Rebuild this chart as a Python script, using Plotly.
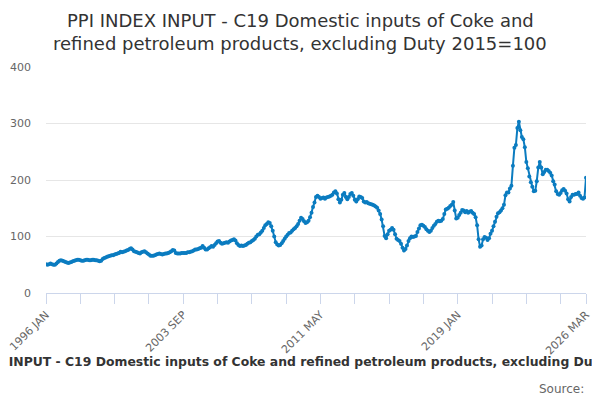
import pandas as pd
import plotly.graph_objects as go

# monthly index values (2015=100)
y1996 = [51, 50, 51, 52, 51, 50, 50, 52, 55, 57, 58, 57]
y1997 = [56, 55, 54, 53, 54, 55, 56, 57, 58, 59, 59, 58]
y1998 = [57, 57, 58, 59, 59, 58, 58, 59, 59, 58, 58, 57]
y1999 = [56, 57, 60, 62, 63, 64, 65, 66, 67, 67, 68, 69]
y2000 = [70, 71, 73, 72, 73, 74, 75, 76, 78, 79, 77, 74]
y2001 = [73, 72, 71, 70, 72, 73, 74, 72, 70, 68, 66, 66]
y2002 = [66, 67, 68, 69, 70, 69, 68, 69, 70, 70, 71, 72]
y2003 = [74, 76, 75, 71, 70, 70, 70, 71, 71, 71, 71, 72]
y2004 = [72, 73, 74, 75, 77, 77, 78, 79, 80, 83, 80, 77]
y2005 = [77, 79, 81, 83, 82, 85, 88, 91, 92, 89, 87, 88]
y2006 = [89, 90, 89, 91, 93, 94, 95, 93, 88, 85, 83, 84]
y2007 = [83, 84, 85, 87, 89, 90, 92, 94, 96, 100, 103, 104]
y2008 = [107, 110, 115, 120, 122, 125, 124, 118, 110, 100, 90, 86]
y2009 = [84, 85, 88, 92, 96, 100, 103, 106, 107, 110, 113, 115]
y2010 = [118, 122, 128, 133, 131, 127, 124, 125, 128, 134, 142, 152]
y2011 = [160, 170, 172, 170, 167, 168, 169, 167, 169, 170, 171, 172]
y2012 = [174, 178, 180, 176, 166, 160, 165, 174, 177, 170, 166, 170]
y2013 = [175, 177, 172, 165, 162, 166, 171, 170, 168, 162, 160, 161]
y2014 = [159, 158, 157, 156, 155, 153, 151, 146, 140, 130, 118, 101]
y2015 = [97, 104, 110, 112, 115, 112, 104, 96, 94, 92, 87, 80]
y2016 = [75, 78, 84, 92, 97, 100, 99, 100, 101, 108, 114, 120]
y2017 = [121, 119, 117, 113, 110, 108, 110, 115, 119, 122, 126, 128]
y2018 = [127, 128, 131, 140, 148, 149, 151, 154, 156, 161, 146, 132]
y2019 = [133, 138, 142, 147, 146, 143, 145, 142, 144, 145, 142, 140]
y2020 = [134, 120, 95, 82, 84, 95, 99, 98, 94, 97, 105, 110]
y2021 = [118, 126, 135, 141, 143, 146, 150, 156, 173, 178, 178, 185]
y2022 = [190, 225, 257, 262, 292, 303, 288, 276, 272, 258, 232, 221]
y2023 = [206, 196, 188, 180, 181, 198, 222, 232, 222, 210, 214, 218]
y2024 = [218, 216, 213, 208, 198, 192, 180, 175, 174, 177, 182, 184]
y2025 = [181, 176, 166, 162, 170, 174, 174, 175, 175, 178, 172, 168]
y2026 = [167, 169, 204]

values = (y1996 + y1997 + y1998 + y1999 + y2000 + y2001 + y2002 + y2003 + y2004 + y2005
          + y2006 + y2007 + y2008 + y2009 + y2010 + y2011 + y2012 + y2013 + y2014 + y2015
          + y2016 + y2017 + y2018 + y2019 + y2020 + y2021 + y2022 + y2023 + y2024 + y2025
          + y2026)

months = pd.date_range("1996-01-01", periods=len(values), freq="MS")
labels = [d.strftime("%Y %b").upper() for d in months]

# a tick every 23 months, a label on every 4th one plus the last month
tick_idx = list(range(0, len(labels), 23)) + [len(labels) - 1]
tick_text = [labels[i] if (i % 92 == 0 or i == len(labels) - 1) else "" for i in tick_idx]

title1 = "PPI INDEX INPUT - C19 Domestic inputs of Coke and"
title2 = "refined petroleum products, excluding Duty 2015=100"
caption = ("PPI INDEX INPUT - C19 Domestic inputs of Coke and refined petroleum "
           "products, excluding Duty 2015=100")

blue = "#0b7cc0"
font = "DejaVu Sans"

fig = go.Figure(go.Scatter(
    x=labels, y=values, mode="lines+markers",
    line=dict(color=blue, width=2),
    marker=dict(color=blue, size=4),
    hoverinfo="x+y"))

# the page body adds an 8px offset, so the figure is laid out 8px up/left
off = 8
W, H = 600, 400
l, r, t, b = 46 - off, W - (586 - off), 67 - off, H - (293 - off)
pw, ph = W - l - r, H - t - b


def py(screen_y):
    # screen pixel row -> paper y
    return (H - b - (screen_y - off)) / ph


def px(screen_x):
    return (screen_x - off - l) / pw


fig.update_layout(
    width=W, height=H,
    margin=dict(l=l, r=r, t=t, b=b, autoexpand=False),
    paper_bgcolor="white", plot_bgcolor="white",
    showlegend=False,
    font=dict(family=font, color="#666666", size=11),
    xaxis=dict(type="category", range=[0, len(labels) - 1], automargin=False,
               tickmode="array", tickvals=[labels[i] for i in tick_idx], ticktext=tick_text,
               tickangle=-45, ticks="outside", ticklen=10, tickcolor="#ccd6eb",
               showline=True, linecolor="#ccd6eb", linewidth=1,
               showgrid=False, tickfont=dict(size=11, color="#666666")),
    yaxis=dict(range=[0, 400], dtick=100, showgrid=True, gridcolor="#e6e6e6",
               zeroline=False, showline=False, ticks="", ticklabelstandoff=14,
               automargin=False, tickfont=dict(size=11, color="#666666")),
)

# two-line title
for txt, yy in [(title1, 21), (title2, 44)]:
    fig.add_annotation(text=txt, xref="paper", yref="paper", x=px(300), y=py(yy),
                       showarrow=False, xanchor="center", yanchor="middle",
                       font=dict(family=font, size=18, color="#333333"))

# bold caption under the chart, wider than the page, and the source line
fig.add_annotation(text="<b>" + caption + "</b>", xref="paper", yref="paper",
                   x=px(308), y=py(361), showarrow=False,
                   xanchor="center", yanchor="middle",
                   font=dict(family=font, size=12.4, color="#333333"))
fig.add_annotation(text="Source: ", xref="paper", yref="paper",
                   x=px(590), y=py(389), showarrow=False,
                   xanchor="right", yanchor="middle",
                   font=dict(family=font, size=12, color="#666666"))

fig.write_html("out.html")
